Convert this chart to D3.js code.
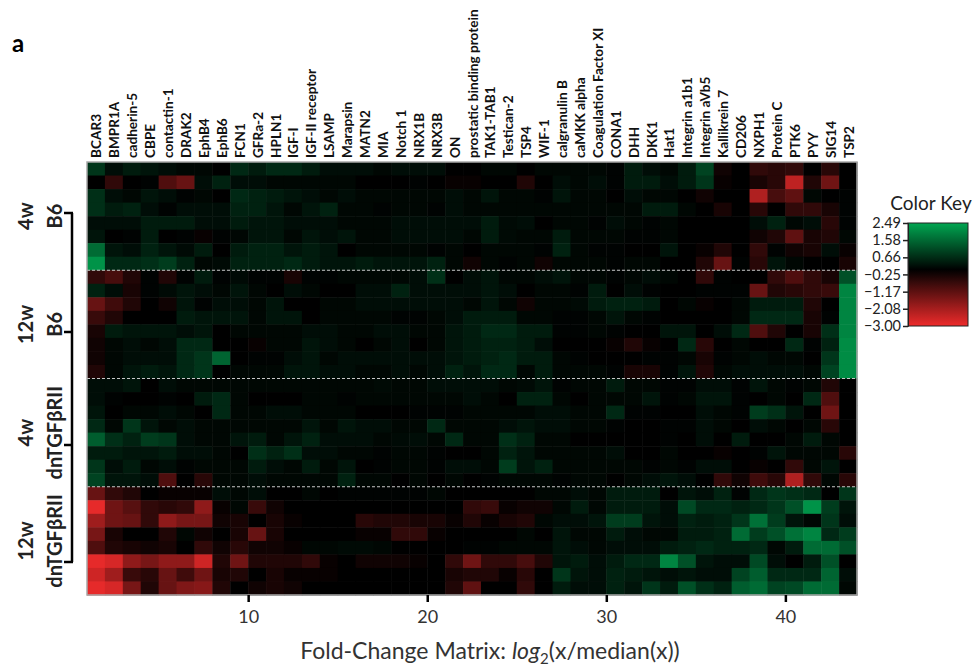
<!DOCTYPE html>
<html>
<head>
<meta charset="utf-8">
<script src="https://cdn.jsdelivr.net/npm/d3@7"></script>
<style>
  body { margin: 0; background: #fff; }
  text { font-family: Lato, "Open Sans", sans-serif; }
</style>
</head>
<body>
<script>
const genes = ["BCAR3", "BMPR1A", "cadherin-5", "CBPE", "contactin-1", "DRAK2", "EphB4", "EphB6",
  "FCN1", "GFRa-2", "HPLN1", "IGF-I", "IGF-II receptor", "LSAMP", "Marapsin", "MATN2", "MIA",
  "Notch 1", "NRX1B", "NRX3B", "ON", "prostatic binding protein", "TAK1-TAB1", "Testican-2",
  "TSP4", "WIF-1", "calgranulin B", "caMKK alpha", "Coagulation Factor XI", "CONA1", "DHH",
  "DKK1", "Hat1", "Integrin a1b1", "Integrin aVb5", "Kallikrein 7", "CD206", "NXPH1",
  "Protein C", "PTK6", "PYY", "SIG14", "TSP2"];

const groupAges = ["4w", "12w", "4w", "12w"];
const groupStrains = ["B6", "B6", "dnTGFβRII", "dnTGFβRII"];

// log2 fold change, 8 samples per group, 43 genes per sample
const rows4wB6 = [
  [0.8,0.2,0.4,0.3,0.2,0.1,0.1,0,0.6,0.4,0.6,0.6,0.4,0.2,0.2,0.2,0.1,0.2,0.2,0.2,0,0,0.1,0.1,0,0.1,0.1,0.1,0.1,0.05,0.4,0.2,0.1,0.4,1.0,-0.2,0,-0.6,-0.5,-0.6,0,-0.5,0],
  [0,-0.6,0,0.05,-1.0,-1.3,0.2,0.5,0.2,0.2,0.1,0.1,0.1,0.1,0.1,0,0,0,0.05,0,-0.1,-0.1,0,0,-0.4,0,0.2,0.1,0.2,0.05,0.4,0.4,0.2,0.4,0.8,-0.1,0,-0.3,-0.5,-2.4,-0.4,-1.4,0],
  [0.7,0.2,0.1,0.3,0.2,0.05,0.1,0,0.6,0.5,0.4,0.3,0.2,0.1,0.2,0.1,0.1,0.1,0.1,0.1,0.2,0.1,0.3,0.1,0.1,0.05,0.3,0.1,0.1,0,0.2,0.1,0.1,0,-0.2,0,0,-2.2,-0.9,-1.2,0.1,0,0.05],
  [0.7,0.4,0.5,0.2,0.05,0.2,0.2,0.2,0.5,0.5,0.3,0.1,0.3,0.5,0.1,0.1,0.05,0.1,0.1,0.05,0.2,0.1,0.1,0.1,0.1,0.1,0.1,0.1,0.1,0.1,0.1,0.4,0.4,0.1,0,-0.3,0,-0.5,0,-0.6,-0.6,-0.3,0.05],
  [0.2,0.2,0.2,0.4,0.4,0.4,0.2,0.2,0.4,0.3,0.3,0.2,0.2,0.2,0.1,0.1,0.1,0.2,0.2,0.2,0.2,0.2,0.4,0.15,0.2,0,0.1,0.1,0.05,0.2,0.1,0.05,0.1,0,0,0,0,0.2,0.5,0.1,0.2,-0.5,0.05],
  [0.3,0,0.05,0.4,0,0.05,-0.1,0.05,0.1,0.3,0.3,0.1,0.3,0.2,0.3,0.1,0.1,0.2,0.2,0.2,0.2,0.1,0.4,0.15,0.1,0.1,0.4,0.1,0.1,0.1,0.05,0.05,0.1,0,0,0,0,-0.2,-0.4,-1.2,-0.3,-0.4,0.1],
  [1.6,0.3,0.2,0.5,0.3,0.15,0.4,0,0.4,0.5,0.5,0.3,0.4,0.3,0,0.1,0.1,0.1,0.1,0.05,0.1,0,0.1,0.1,0.1,0.05,0.5,0.1,0.05,0.05,0,0,0.3,0,-0.1,-0.4,0,-0.6,0.05,-0.2,-0.3,0.2,-0.1],
  [2.2,0.6,0.6,0.7,0.9,0.5,0.1,0.15,0.5,0.5,0.5,0.6,0.4,0.3,0.3,0.4,0.3,0.3,0.3,0.5,0.1,-0.2,0.1,0.05,0.1,-0.2,0.1,0.1,0.1,0.05,0.1,0.1,0,0,-0.4,-1.3,0.05,-0.5,0.3,0.1,0,0,-0.3]
];
const rows12wB6 = [
  [-0.6,-0.9,-0.4,0.05,-0.4,0.05,0.4,0.05,0.15,0.05,0.05,-0.3,0.05,0.05,0.1,0.1,0.1,0.1,0.2,0.7,0,0.2,0.3,0.1,0.1,0.2,0.3,0.1,0.1,0.05,0.1,0.2,0.1,0,-0.6,0.05,0,0,-0.6,-1.0,-0.6,-0.3,1.2],
  [0.5,0.2,-0.3,0.05,0.15,0.3,0.2,0.1,0.3,0.1,0,0.2,0.1,0,0,0.2,0.2,0.5,0.2,0.2,0.2,0.2,0.3,0.2,0,0.1,0.1,0.05,0.4,0,0.2,0.05,0,0,0.05,0.05,0.05,-1.3,-0.4,-0.5,-0.6,-0.7,2.0],
  [-1.3,-0.8,-0.4,0,-0.2,0.3,0.05,0.2,0.2,0.1,0.3,0,0,0.1,0.1,0.2,0.2,0.2,0.2,0.2,0.2,0.1,0.3,0.1,-0.2,0.1,0.1,0.15,0.4,0.5,0.5,0.4,0,0.1,-0.1,0,0.1,0.4,0.4,0.4,-0.4,0,2.0],
  [-0.7,-0.4,0,0,0,0.4,0.3,0.3,0.3,0.1,0.3,0.3,0,0.1,0.1,0.1,0.1,0.05,0.05,0.1,0.2,0.4,0.4,0.4,0.1,0.1,0.05,0.05,0.1,0.3,0.1,0.05,0,0,0,0,0.1,0.6,0.6,0.6,-0.3,0.05,2.0],
  [-0.3,0.4,0.3,0.3,0.3,0.2,0.3,0,0.1,0.1,0.1,0.1,0.2,0.2,0.1,0.1,0.2,0.2,0.1,0.1,0.3,0.4,0.6,0.6,0.4,0.4,0.05,0.05,0.1,0.05,0,0,0.3,0.3,0,0.2,0.6,-1.0,-0.4,0,-0.3,0.7,2.0],
  [-0.2,0.1,0.2,0.1,0.2,0.6,0.6,0,0,-0.1,0.1,0.1,0.3,0.2,0.1,0,0.1,0.2,0,0.1,0.3,0.4,0.5,0.5,0.4,0.2,0,0,0,-0.1,-0.4,-0.1,0,0.6,-0.5,0,0.1,0,0,0.6,0.05,0.5,2.1],
  [-0.2,0.1,0.2,0.2,0.2,0.6,0.8,1.5,0,0.05,0.05,0.2,0.3,0.1,0.2,0.2,0.2,0.2,0.2,0.2,0.3,0.4,0.5,0.6,0.4,0.4,0.1,0.05,0,0,0,0.05,0.05,0.1,-0.3,0.05,0.1,0.2,0.1,0.1,0,0.8,2.1],
  [-0.4,0.1,0.3,0.4,0.3,0.6,0.8,0,0.1,0.1,0.1,0.3,0.3,0.2,0.2,0.1,0.1,0.2,0.1,0.2,0.5,0.3,0.6,0.6,0.1,0.4,0.1,0.1,0.1,0.05,-0.3,-0.3,0.05,0.3,-0.4,0.1,0.2,0.2,0.2,0.2,0.1,1.0,2.1]
];
const rows4wDn = [
  [0.2,0.2,0.3,0,0.2,0.1,0.1,0.1,0.1,0.1,0.1,0.1,0.1,0.1,0.1,0.1,0.15,0.1,0.1,0.2,0.2,0.2,0.2,0.1,0.15,0.3,0.05,0.1,0.1,0.4,0.1,0.1,0.05,0.05,0.2,0.2,0.05,0.3,0.1,0.05,0.1,-0.4,0],
  [0.2,0.05,0,0,0.05,0,0.4,0.6,0.1,0,0,0,0.1,0.1,0.05,0.1,0.1,0.1,0.1,0.1,0.1,0.2,0.1,0,0.5,0.5,0.1,0,0.1,0.1,0.1,0.3,0.05,0.1,0.3,0.3,0.05,0,0.1,0,0.6,-1.0,0],
  [0.3,0,0.1,0.1,0.2,0.1,0,0.6,0.1,0.1,0.2,0.2,0.1,0.1,0.1,0,0,0,0.05,0.05,0.05,0.1,0.1,0.1,0.1,0.2,0.2,0.1,0.1,0.6,0.05,0.05,0,0,0.2,0.1,0.05,0.9,0.7,0.3,0,-1.4,0],
  [0.6,0.1,0.8,0.3,0.1,0.2,0.1,0.1,0.1,0.1,0.1,0.1,0.3,0.1,0.3,0.2,0.2,0.1,0.1,0.6,0.1,0.1,0.1,0.2,0.3,0.2,0.2,0.1,0.1,0.05,0,0,0.05,0.05,0.2,0.1,0,0.2,0.1,0,0.1,-0.5,0],
  [1.4,0.7,0.5,0.9,0.8,0.2,0.1,0.1,0.3,0.4,0.1,0.3,0.5,0.2,0.2,0.2,0.1,0.15,0.2,0.1,0.6,0.1,0.1,0.7,0.5,0.1,0.1,0,0,0,0,0,0.05,0,0.2,0,0.4,0,0,0.1,0.4,0.1,0],
  [0.4,0.4,0.3,0.3,0.4,0.2,0.2,0.1,0,0.7,0.5,0.7,0.2,0.2,0.1,0.1,0.05,0.1,0.1,0.05,0,0,0.1,0.5,0.3,0.1,0.1,0.1,0.1,0.2,0,0,0.1,0,0,-0.1,0,0.05,0.3,0.1,0.1,0.1,-0.5],
  [0.8,0.2,0.4,0.1,0.2,0.05,0.1,0.1,0.1,0.4,0.2,0.1,0.4,0.1,0.3,0,0.05,0.1,0.1,0.05,0.2,0.2,0.1,0.9,0.3,0.5,0.1,0.1,0.1,0.1,0.1,0.05,0.1,0.05,0.2,0.2,0,-0.1,0,-0.6,0.1,0.3,0],
  [1.0,0.3,0.3,0.2,-1.0,0,-0.5,0.1,0.1,0.2,0.1,0.1,0.1,0.1,0.5,0.1,0.1,0,0.1,0,0.1,0,0.05,0.1,0.1,0.1,0.05,0.1,0.1,0,0.1,0.2,0.3,0.2,0,-0.6,-0.2,-0.8,-0.5,-2.2,-0.6,0.1,-0.5]
];
const rows12wDn = [
  [-1.3,-0.6,-0.4,0,-0.1,-0.1,-0.1,0.2,0.1,0.2,0,0,0.1,0,0.05,0.05,0.05,0.05,0.05,0.1,0,0,0,0,0,0.1,0.1,0.2,0.1,0.4,0.4,0.4,0,0.3,0.2,0.5,0.05,0.6,0.8,0.7,0.6,0,0.8],
  [-2.9,-1.4,-1.1,-0.6,-0.5,-0.6,-1.8,-0.1,0.1,-0.7,-0.2,0,0,0,0,0,0,0,0,0,0,-0.6,-0.7,-0.1,-0.2,-0.2,0.1,0.4,0.1,0.4,0.4,0.4,0.2,1.1,0.6,0.6,0.5,0.6,0.8,1.2,2.2,0.9,0.3],
  [-2.0,-1.4,-1.3,-0.6,-1.8,-1.5,-1.5,-0.2,-0.3,0,-0.3,-0.1,0,0,0,-0.5,-0.4,-0.4,-0.3,-0.3,-0.1,-0.4,-0.1,-0.3,-0.4,0.1,0.2,0.2,0.3,0.9,0.9,0.3,0.2,0.5,0.4,0.5,0.8,1.7,0.9,0.3,0.1,0.8,0.2],
  [-1.5,-0.3,0,0,-0.4,0.1,-0.2,0,-0.3,-1.3,-0.3,0,0,0,0,-0.1,-0.1,-0.6,-0.6,-0.1,0,0,0,0,0.1,0,0.3,0.1,0.1,0.4,0.2,0.1,0.1,0.4,0.4,0.5,1.6,0.9,1.2,1.7,2.0,0.6,0.9],
  [-1.0,-0.4,-0.3,-0.2,-0.3,0,-0.6,-0.2,-0.5,-0.2,-0.2,-0.1,0.1,0.1,0.15,0.15,0.1,0,0,0,0,0.05,0.05,0.1,0.1,0.1,0.3,0.2,0.1,0.2,0.2,0.2,0.4,0.5,0.6,0.5,0.5,0.6,0.1,0.4,1.6,1.6,1.2],
  [-2.9,-2.7,-1.8,-1.5,-1.8,-1.8,-2.6,-0.4,-1.4,-0.4,-0.4,-0.4,-0.6,-0.1,0,-0.2,-0.2,-0.2,-0.1,0,-0.6,-1.4,-0.6,-0.6,-0.9,-0.4,0.3,0.4,0.2,0.4,0.6,0.6,2.0,1.2,0.3,0.2,0.2,1.1,0.2,0,0.4,1.2,0],
  [-2.6,-2.0,-0.7,-0.5,-1.3,-0.8,-1.4,-0.3,-0.4,0,-0.3,-0.1,-0.1,-0.1,0,0,0,0,0,0,-0.3,-0.4,-0.4,-0.1,-0.5,0,0.8,0.3,0.2,0.5,0.4,0.3,0.2,0.3,0.2,0.2,1.0,1.4,0.6,0.6,0.6,1.5,0.2],
  [-2.9,-2.7,-1.5,-0.4,-1.3,-1.6,-1.7,-0.4,0,-0.2,-0.3,-0.2,0,0,0,0,0,0,0,0,-0.4,-1.2,0,0,-0.6,0,0.4,0.2,0.2,0.5,0.3,0.8,0.4,1.2,0.7,0.5,1.4,1.6,1.0,1.1,1.6,1.6,0.1]
];

const xTicks = [10, 20, 30, 40];
const keyTicks = [2.49, 1.58, 0.66, -0.25, -1.17, -2.08, -3.00];

const W = 976, H = 671;
const hmLeft = 87, hmRight = 857, hmTop = 162, hmBottom = 595;

const rows = [].concat(rows4wB6, rows12wB6, rows4wDn, rows12wDn);
const perGroup = rows4wB6.length;

const svg = d3.select("body").append("svg")
    .attr("width", W)
    .attr("height", H);

const x = d3.scaleLinear().domain([1, genes.length + 1]).range([hmLeft, hmRight]);
const y = d3.scaleLinear().domain([0, rows.length]).range([hmTop, hmBottom]);
const color = d3.scaleLinear()
    .domain([-3, 0, 2.49])
    .range(["#ee2b2b", "#000000", "#00a651"])
    .clamp(true);

// panel letter
svg.append("text")
    .attr("x", 12).attr("y", 52)
    .attr("font-size", 24).attr("font-weight", "bold")
    .text("a");

// cells
const cells = [];
rows.forEach((r, i) => r.forEach((v, j) => cells.push({ i, j, v })));
svg.append("g")
  .selectAll("rect")
  .data(cells)
  .join("rect")
    .attr("x", d => x(d.j + 1))
    .attr("y", d => y(d.i))
    .attr("width", d => x(d.j + 2) - x(d.j + 1) + 0.5)
    .attr("height", d => y(d.i + 1) - y(d.i) + 0.5)
    .attr("fill", d => color(d.v));

// group separators
svg.append("g")
  .selectAll("line")
  .data([1, 2, 3])
  .join("line")
    .attr("x1", hmLeft).attr("x2", hmRight)
    .attr("y1", d => y(d * perGroup)).attr("y2", d => y(d * perGroup))
    .attr("stroke", "#c8c8c8")
    .attr("stroke-width", 1)
    .attr("stroke-dasharray", "3,2");

svg.append("rect")
    .attr("x", hmLeft).attr("y", hmTop)
    .attr("width", hmRight - hmLeft).attr("height", hmBottom - hmTop)
    .attr("fill", "none")
    .attr("stroke", "#a8a8a8")
    .attr("stroke-width", 1.5);

// gene labels
svg.append("g")
  .selectAll("text")
  .data(genes)
  .join("text")
    .attr("transform", (d, j) => `translate(${x(j + 1.5) + 5.5},158) rotate(-90)`)
    .attr("font-size", 13.6)
    .attr("font-weight", "bold")
    .attr("fill", "#111")
    .text(d => d);

// x axis
const xAxis = svg.append("g")
    .attr("transform", `translate(0,${hmBottom})`)
    .call(d3.axisBottom(x).tickValues(xTicks).tickSize(7).tickPadding(8));
xAxis.select(".domain").remove();
xAxis.selectAll("line").attr("stroke", "#000").attr("stroke-width", 2.5);
xAxis.selectAll("text")
    .attr("font-family", "Lato, sans-serif")
    .attr("font-size", 18)
    .attr("fill", "#333");

const title = svg.append("text")
    .attr("x", 490).attr("y", 659)
    .attr("text-anchor", "middle")
    .attr("font-size", 23)
    .attr("fill", "#333");
title.append("tspan").text("Fold-Change Matrix: ");
title.append("tspan").attr("font-style", "italic").text("log");
title.append("tspan").attr("font-size", 15).attr("dy", 5).text("2");
title.append("tspan").attr("dy", -5).text("(x/median(x))");

// group labels and bracket
const tickY = [213, 332, 445, 562];
const labelY = [0, 1, 2, 3].map(k => y((k + 0.5) * perGroup));
const gl = svg.append("g");
gl.selectAll("text.age")
  .data(groupAges)
  .join("text")
    .attr("class", "age")
    .attr("transform", (d, k) => `translate(33,${labelY[k]}) rotate(-90)`)
    .attr("text-anchor", "middle")
    .attr("font-size", 20).attr("font-weight", "bold")
    .attr("fill", "#222")
    .text(d => d);
gl.selectAll("text.strain")
  .data(groupStrains)
  .join("text")
    .attr("class", "strain")
    .attr("transform", (d, k) => `translate(62,${labelY[k]}) rotate(-90)`)
    .attr("text-anchor", "middle")
    .attr("font-size", 20).attr("font-weight", "bold")
    .attr("fill", "#222")
    .text(d => d);
gl.append("line")
    .attr("x1", 72).attr("x2", 72)
    .attr("y1", tickY[0]).attr("y2", tickY[3])
    .attr("stroke", "#000").attr("stroke-width", 2.5);
gl.selectAll("line.tk")
  .data(tickY)
  .join("line")
    .attr("class", "tk")
    .attr("x1", 64).attr("x2", 73)
    .attr("y1", d => d).attr("y2", d => d)
    .attr("stroke", "#000").attr("stroke-width", 2.5);

// color key
const keyX = 908, keyW = 60;
const ky = d3.scaleLinear().domain([-3, 2.49]).range([326, 223]);
const defs = svg.append("defs");
const grad = defs.append("linearGradient")
    .attr("id", "key").attr("x1", 0).attr("x2", 0).attr("y1", 1).attr("y2", 0);
d3.range(0, 1.0001, 0.05).forEach(t => {
  const v = -3 + t * 5.49;
  grad.append("stop").attr("offset", t).attr("stop-color", color(v));
});
svg.append("text")
    .attr("x", 931).attr("y", 210)
    .attr("text-anchor", "middle")
    .attr("font-size", 19)
    .attr("fill", "#222")
    .text("Color Key");
svg.append("rect")
    .attr("x", keyX).attr("y", ky(2.49))
    .attr("width", keyW).attr("height", ky(-3) - ky(2.49))
    .attr("fill", "url(#key)")
    .attr("stroke", "#222").attr("stroke-width", 1);
const keyAxis = svg.append("g")
    .attr("transform", `translate(${keyX},0)`)
    .call(d3.axisLeft(ky).tickValues(keyTicks).tickFormat(d3.format(".2f")).tickSize(5).tickPadding(2));
keyAxis.select(".domain").attr("stroke", "#222");
keyAxis.selectAll("line").attr("stroke", "#222").attr("stroke-width", 1.5);
keyAxis.selectAll("text")
    .attr("font-family", "Lato, sans-serif")
    .attr("font-size", 14.5)
    .attr("fill", "#222");
</script>
</body>
</html>
